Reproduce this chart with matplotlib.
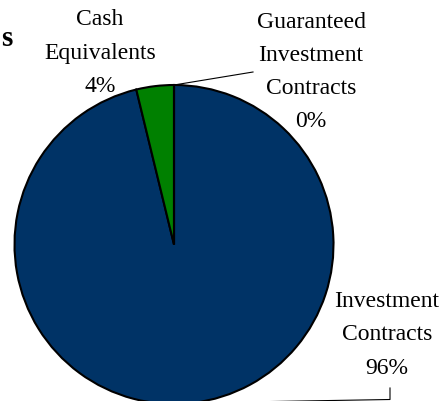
import numpy as np
import matplotlib
matplotlib.use("Agg")
import matplotlib.pyplot as plt

# slice data (clockwise from 12 o'clock)
labels = ["Investment\nContracts", "Cash\nEquivalents", "Guaranteed\nInvestment\nContracts"]
shares = [96.2, 3.8, 0.0]
pct_text = ["96%", "4%", "0%"]
colors = ["#003366", "#008000", "#4F81BD"]

W, H = 444, 402
cx, cy, r = 174, H - 245.5, 159.5

plt.rcParams['font.family'] = ['Liberation Serif', 'DejaVu Serif']

fig = plt.figure(figsize=(W / 100, H / 100), dpi=100)
ax = fig.add_axes([0, 0, 1, 1])

wedges, _ = ax.pie(shares, colors=colors, startangle=90, counterclock=False,
                   center=(cx, cy), radius=r, frame=True,
                   wedgeprops=dict(edgecolor='black', linewidth=1.5))
ax.set_xlim(0, W)
ax.set_ylim(0, H)
ax.set_aspect('equal')
ax.axis('off')


def edge_point(w):
    ang = np.deg2rad((w.theta1 + w.theta2) / 2)
    return cx + r * np.cos(ang), cy + r * np.sin(ang)


# label block centres (pixels, y measured from top)
label_pos = [(387, 335), (100, 53), (311, 72)]
fs = 17
for lab, pct, (lx, ly) in zip(labels, pct_text, label_pos):
    ax.text(lx, H - ly, lab + "\n" + pct, ha='center', va='center',
            fontsize=fs, linespacing=1.77, color='black')

# leader lines
x0, y0 = edge_point(wedges[2])
ax.plot([x0, 253], [y0, H - 73], color='black', lw=0.8)
x0, y0 = edge_point(wedges[0])
ax.plot([x0, 390, 390], [y0, H - 400.5, H - 389], color='black', lw=0.8,
        clip_on=False)

# the chart title lies outside the image, only its last letter shows
ax.text(1, H - 38, "s", ha='left', va='center', fontsize=21,
        fontweight='bold')

fig.savefig("out.png", dpi=100)
